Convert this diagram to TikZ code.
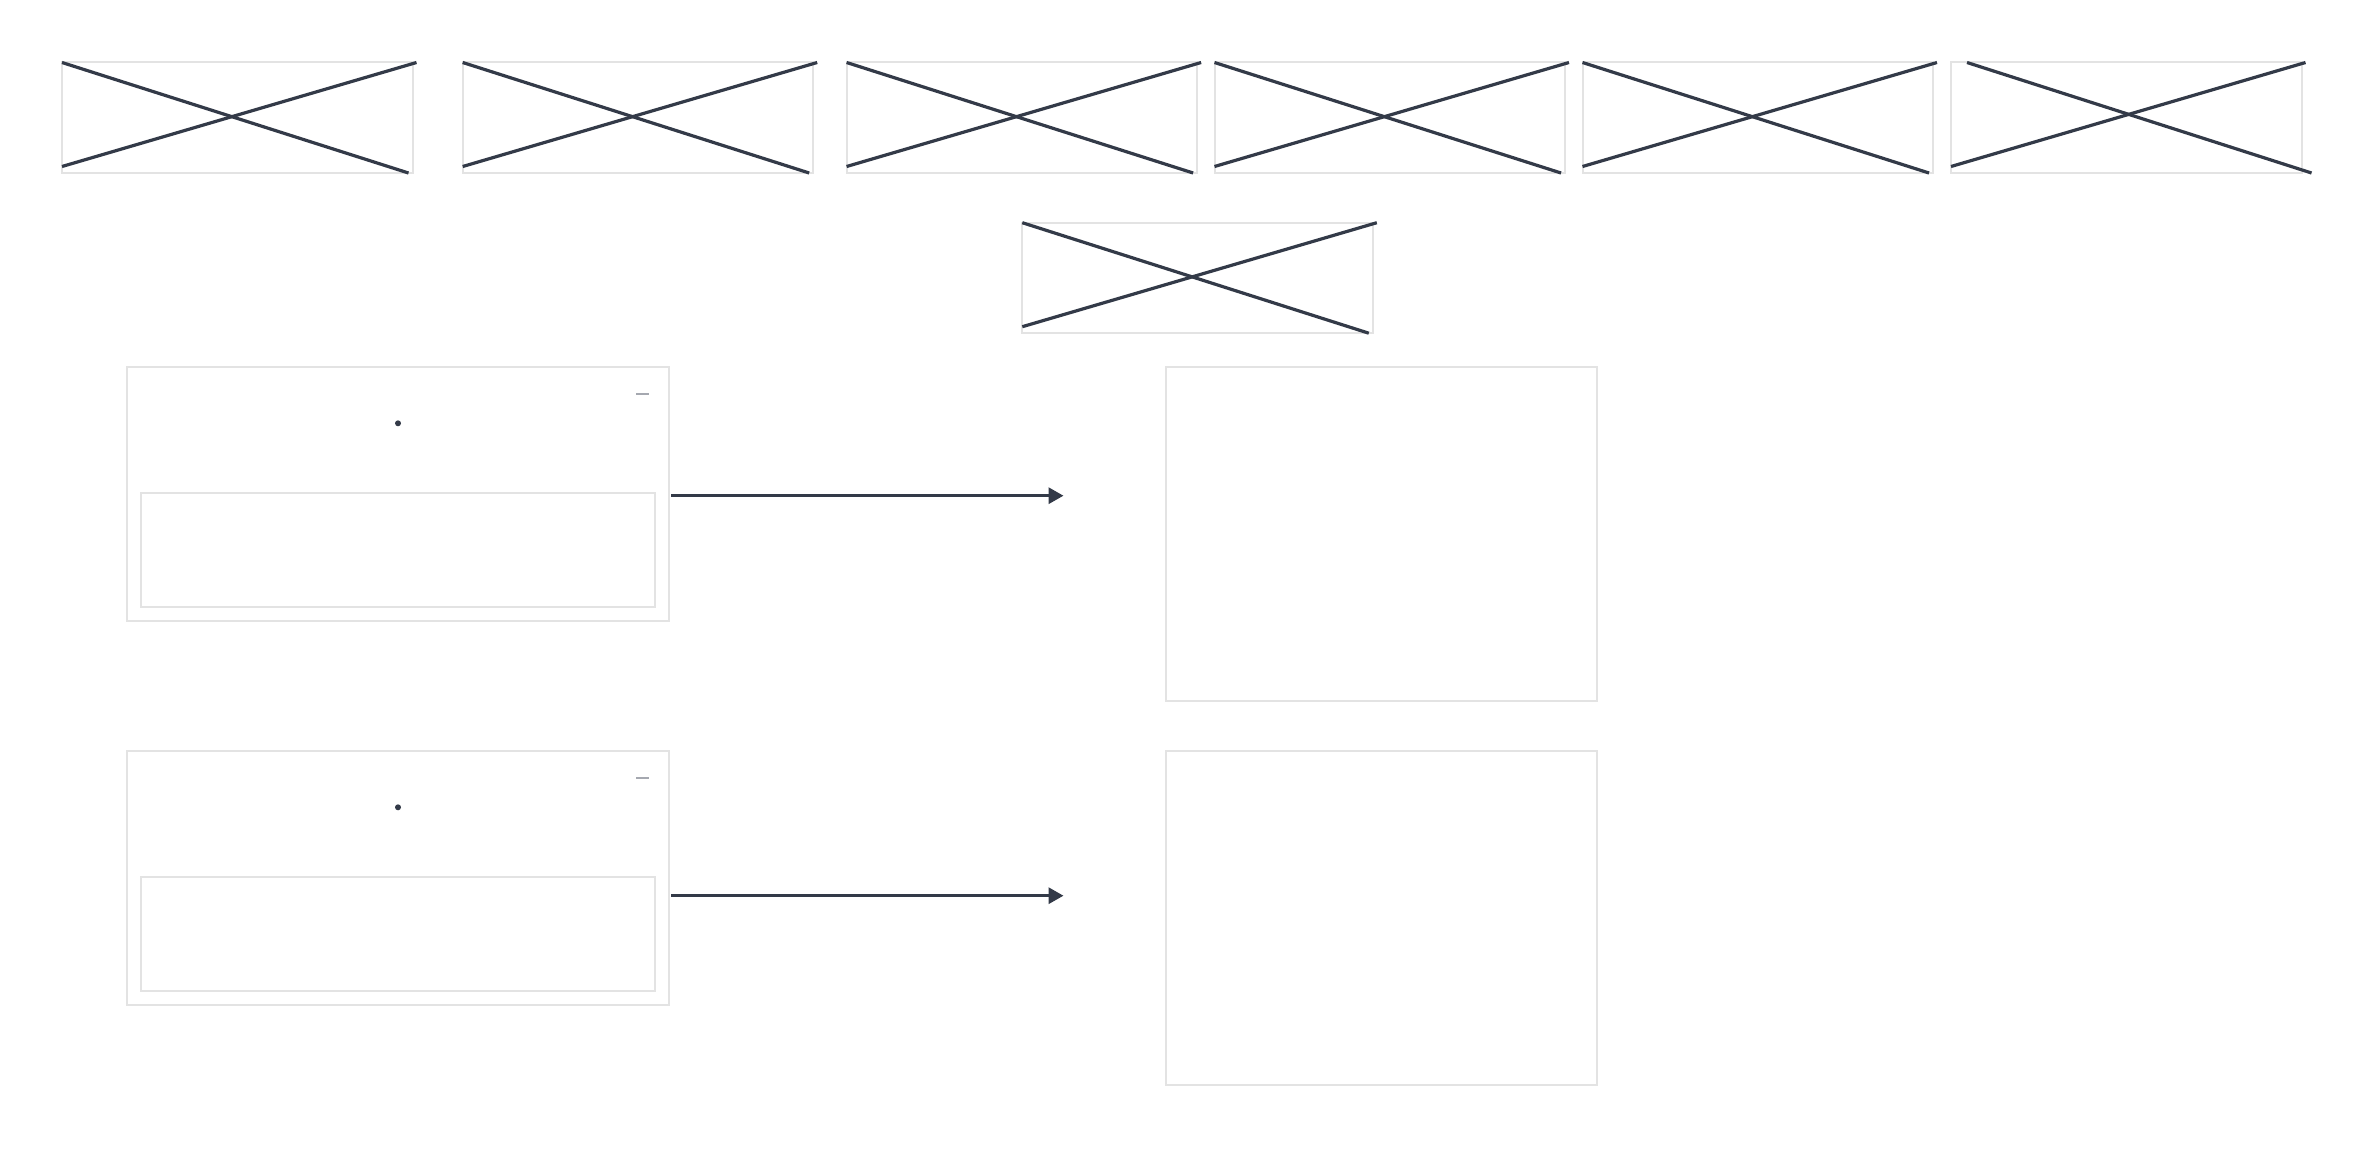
\documentclass[tikz,border=0pt]{standalone}
\usetikzlibrary{arrows.meta}
\definecolor{inkdark}{HTML}{333A48}
\definecolor{framegray}{HTML}{E3E3E3}
\definecolor{markgray}{HTML}{A5A8B0}
\tikzset{
  framebox/.style={draw=framegray,line width=2pt,inner sep=0pt,outer sep=0pt,anchor=north west},
  imgbox/.style={framebox,minimum width=350.5pt,minimum height=110.5pt},
  flow/.style={draw=inkdark,line width=3.2pt,-{Triangle[length=15pt,width=16pt]}}
}
\begin{document}
\begin{tikzpicture}[x=1pt,y=-1pt]
  \useasboundingbox (0,0) rectangle (2376,1148);
  % image placeholders
  \begin{scope}[every node/.style={imgbox}]
    \node (img1) at (62,62.5) {};
    \node (img2) at (462.7,62.5) {};
    \node (img3) at (846.6,62.5) {};
    \node (img4) at (1214.5,62.5) {};
    \node (img5) at (1582.5,62.5) {};
    \node (img6) at (1951,62.5) {};
    \node (img7) at (1022.3,222.7) {};
  \end{scope}
  \begin{scope}[every edge/.style={draw=inkdark,line width=3.2pt}]
    \path (img1.north west) edge ([xshift=-4pt]img1.south east);
    \path ([yshift=6.5pt]img1.south west) edge ([xshift=4pt]img1.north east);
    \path (img2.north west) edge ([xshift=-4pt]img2.south east);
    \path ([yshift=6.5pt]img2.south west) edge ([xshift=4pt]img2.north east);
    \path (img3.north west) edge ([xshift=-4pt]img3.south east);
    \path ([yshift=6.5pt]img3.south west) edge ([xshift=4pt]img3.north east);
    \path (img4.north west) edge ([xshift=-4pt]img4.south east);
    \path ([yshift=6.5pt]img4.south west) edge ([xshift=4pt]img4.north east);
    \path (img5.north west) edge ([xshift=-4pt]img5.south east);
    \path ([yshift=6.5pt]img5.south west) edge ([xshift=4pt]img5.north east);
    \path ([xshift=16pt]img6.north west) edge ([xshift=10pt]img6.south east);
    \path ([yshift=6.5pt]img6.south west) edge ([xshift=4pt]img6.north east);
    \path (img7.north west) edge ([xshift=-4pt]img7.south east);
    \path ([yshift=6.5pt]img7.south west) edge ([xshift=4pt]img7.north east);
  \end{scope}
  % panels and views
  \begin{scope}[every node/.style={framebox}]
    \node[minimum width=542pt,minimum height=254pt] (panel1) at (127,366.7) {};
    \node[minimum width=514pt,minimum height=114pt] (slot1) at (141,492.7) {};
    \node[minimum width=431pt,minimum height=334pt] (view1) at (1166,366.7) {};
    \node[minimum width=542pt,minimum height=254pt] (panel2) at (127,750.7) {};
    \node[minimum width=514pt,minimum height=114pt] (slot2) at (141,876.7) {};
    \node[minimum width=431pt,minimum height=334pt] (view2) at (1166,750.7) {};
  \end{scope}
  \begin{scope}[every node/.style={circle,fill=inkdark,inner sep=0pt,minimum size=6pt}]
    \node (dot1) at (398,423.3) {};
    \node (dot2) at (398,807.3) {};
  \end{scope}
  \draw[markgray,line width=2.2pt] (636.3,393.7) -- (649.1,393.7);
  \draw[markgray,line width=2.2pt] (636.3,777.7) -- (649.1,777.7);
  % arrows
  \coordinate (tip1) at (1063.5,495.7);
  \coordinate (tip2) at (1063.5,895.7);
  \draw[flow] ([xshift=2pt]panel1.east |- tip1) -- (tip1);
  \draw[flow] ([xshift=2pt]panel2.east |- tip2) -- (tip2);
\end{tikzpicture}
\end{document}
